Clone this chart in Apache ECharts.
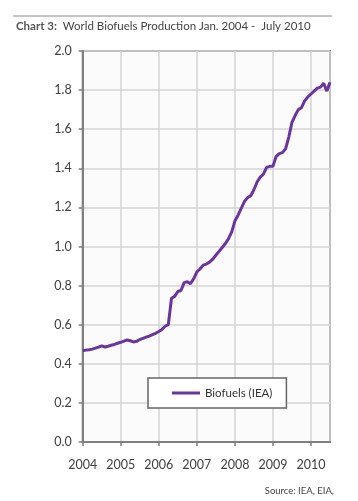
<!DOCTYPE html>
<html>
<head>
<meta charset="utf-8">
<script src="https://cdn.jsdelivr.net/npm/echarts@6/dist/echarts.min.js"></script>
<style>
html,body{margin:0;padding:0;background:#fff;}
#c{width:358px;height:501px;}
</style>
</head>
<body>
<div id="c"></div>
<script>
// Monthly production, Jan 2004 .. Jul 2010 (million b/d)
const startYear = 2004;
const biofuels = [
  0.467, 0.470, 0.472, 0.475, 0.480, 0.485, 0.492, 0.486, 0.490, 0.495, 0.499, 0.505,
  0.510, 0.516, 0.522, 0.518, 0.512, 0.515, 0.524, 0.530, 0.536, 0.542, 0.549, 0.556,
  0.565, 0.576, 0.592, 0.600, 0.735, 0.745, 0.770, 0.775, 0.815, 0.820, 0.810, 0.835,
  0.870, 0.885, 0.905, 0.910, 0.920, 0.935, 0.955, 0.975, 0.995, 1.015, 1.040, 1.075,
  1.130, 1.160, 1.195, 1.230, 1.250, 1.260, 1.290, 1.330, 1.355, 1.370, 1.405, 1.410,
  1.410, 1.460, 1.475, 1.480, 1.500, 1.560, 1.635, 1.670, 1.700, 1.710, 1.745, 1.765,
  1.780, 1.795, 1.810, 1.815, 1.835, 1.795, 1.840
];
const yearTicks = [2004, 2005, 2006, 2007, 2008, 2009, 2010];
const yTicks = [0, 0.2, 0.4, 0.6, 0.8, 1.0, 1.2, 1.4, 1.6, 1.8, 2.0];
const seriesName = 'Biofuels (IEA)';
const titleBold = 'Chart 3:';
const titleText = 'World Biofuels Production Jan. 2004 -  July 2010';
const sourceText = 'Source: IEA, EIA,';

const points = biofuels.map((v, i) => [startYear + i / 12, v]);

const chart = echarts.init(document.getElementById('c'), null, {renderer: 'canvas'});
const font = 'Lato, "Open Sans", sans-serif';
chart.setOption({
  animation: false,
  backgroundColor: '#ffffff',
  textStyle: {fontFamily: font},
  graphic: [
    {type: 'line', shape: {x1: 13, y1: 16, x2: 332, y2: 16}, style: {stroke: '#8a8a8a', lineWidth: 1}},
    {type: 'text', left: 16, top: 20, style: {
      text: '{b|' + titleBold + '}  ' + titleText,
      rich: {b: {fontWeight: 'bold', fontSize: 11.5, fill: '#555', fontFamily: font}},
      fontSize: 11.5, fill: '#444', fontFamily: font
    }},
    {type: 'text', right: 24, top: 486, style: {text: sourceText, fontSize: 9.5, fill: '#444', fontFamily: font}}
  ],
  grid: {
    left: 82.7, right: 28, top: 51, bottom: 59,
    show: true, backgroundColor: '#fbfbfb', borderColor: '#808080', borderWidth: 2
  },
  legend: {
    left: 148, top: 378,
    backgroundColor: '#ffffff',
    borderColor: '#666666', borderWidth: 1.5,
    padding: [9, 14, 9, 24],
    itemWidth: 28, itemHeight: 3, itemGap: 5,
    icon: 'rect',
    textStyle: {fontSize: 11.5, color: '#333', fontFamily: font},
    data: [seriesName]
  },
  xAxis: {
    type: 'value', min: 2004, max: 2010.5, interval: 1,
    axisLine: {show: true, lineStyle: {color: '#808080', width: 2}},
    axisTick: {show: true, length: 4, lineStyle: {color: '#808080', width: 1.5}},
    splitLine: {show: true, lineStyle: {color: '#d4d4d4', width: 1.5}},
    axisLabel: {
      fontSize: 12.5, color: '#404040', margin: 16, showMaxLabel: false,
      formatter: v => yearTicks.includes(v) ? String(v) : ''
    }
  },
  yAxis: {
    type: 'value', min: 0, max: 2, interval: 0.2,
    axisLine: {show: true, lineStyle: {color: '#808080', width: 2}},
    axisTick: {show: true, length: 4, lineStyle: {color: '#808080', width: 1.5}},
    splitLine: {show: true, lineStyle: {color: '#d4d4d4', width: 1.5}},
    axisLabel: {
      fontSize: 12.5, color: '#404040', margin: 11,
      formatter: v => {
        const t = yTicks.find(x => Math.abs(x - v) < 1e-6);
        return t === undefined ? '' : t.toFixed(1);
      }
    }
  },
  series: [{
    name: seriesName,
    type: 'line',
    data: points,
    showSymbol: false,
    symbol: 'none',
    color: '#6a35a0',
    lineStyle: {color: '#6a35a0', width: 3},
    itemStyle: {color: '#6a35a0'}
  }]
});
</script>
</body>
</html>
